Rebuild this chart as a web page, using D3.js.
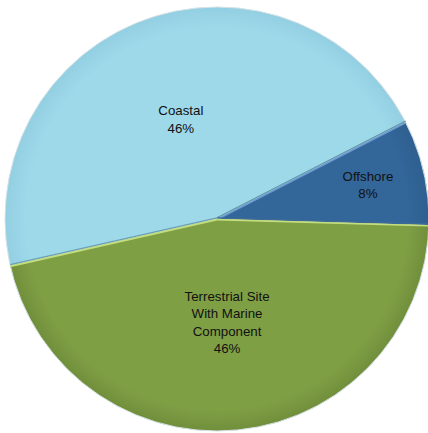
<!DOCTYPE html>
<html>
<head>
<meta charset="utf-8">
<script src="https://cdn.jsdelivr.net/npm/d3@7"></script>
<style>
  body { margin: 0; background: #fff; }
  .slice-label { font-family: "Liberation Sans", Arial, sans-serif; font-size: 13.3px; fill: #111; }
</style>
</head>
<body>
<div id="svg"></div>
<script>
/* Site type pie chart */

let categories = ["Coastal", "Offshore", "Terrestrial Site With Marine Component"];
let labelLines = [["Coastal"], ["Offshore"], ["Terrestrial Site", "With Marine", "Component"]];
let values = [46, 8, 46];

let colors = ["#9ed9ea", "#336699", "#7f9f45"];
let rimColors = ["#93cfe2", "#2e5f90", "#718f3b"];
// how far out from the middle each label sits (fraction of radius)
let labelRadius = [0.5, 0.73, 0.49];

function makeGraph() {
  let w = 428, h = 433;
  let cx = 217, cy = 219, r = 212;

  let svg = d3.select("#svg")
              .append("svg")
              .attr("width", w)
              .attr("height", h);

  let defs = svg.append("defs");
  colors.forEach((c, i) => {
    let g = defs.append("radialGradient")
      .attr("id", "grad" + i)
      .attr("gradientUnits", "userSpaceOnUse")
      .attr("cx", 0).attr("cy", 0).attr("r", r);
    g.append("stop").attr("offset", "0%").attr("stop-color", c);
    g.append("stop").attr("offset", "90%").attr("stop-color", c);
    g.append("stop").attr("offset", "100%").attr("stop-color", rimColors[i]);
  });

  let data = categories.map((d, i) => ({ name: d, value: values[i], i: i }));

  // offshore slice sits just above 3 o'clock
  let total = d3.sum(values);
  let start = (77.25 - (values[0] + values[1] / 2) / total * 360) * Math.PI / 180;

  let pie = d3.pie()
    .value(d => d.value)
    .sort(null)
    .startAngle(start)
    .endAngle(start + 2 * Math.PI);

  let arcs = pie(data);
  let arc = d3.arc().innerRadius(0).outerRadius(r);

  let g = svg.append("g").attr("transform", `translate(${cx}, ${cy})`);

  g.selectAll("path.slice")
    .data(arcs)
    .enter()
    .append("path")
    .classed("slice", true)
    .attr("d", arc)
    .attr("fill", d => `url(#grad${d.data.i})`);

  // faint outer rim
  g.append("circle")
    .attr("r", r)
    .attr("fill", "none")
    .attr("stroke", "#d5e2e6")
    .attr("stroke-width", 1);

  // bevel lines along the slice borders
  let edge = a => [Math.sin(a) * r, -Math.cos(a) * r];
  let borders = [
    { a: arcs[0].endAngle, dark: "#5f93a8", light: "#6f9bd0" },
    { a: arcs[1].endAngle, dark: "#3e6a98", light: "#c4de7f" },
    { a: arcs[2].endAngle, dark: "#6d9fb4", light: "#c4de7f" }
  ];
  borders.forEach(b => {
    let p = edge(b.a);
    g.append("line")
      .attr("x1", 0).attr("y1", -1.2).attr("x2", p[0]).attr("y2", p[1] - 1.2)
      .attr("stroke", b.dark).attr("stroke-width", 1.2);
    g.append("line")
      .attr("x1", 0).attr("y1", 0.6).attr("x2", p[0]).attr("y2", p[1] + 0.6)
      .attr("stroke", b.light).attr("stroke-width", 1.6);
  });

  // labels
  let lineH = 17.5;
  arcs.forEach(d => {
    let i = d.data.i;
    let mid = (d.startAngle + d.endAngle) / 2;
    let lx = Math.sin(mid) * r * labelRadius[i];
    let ly = -Math.cos(mid) * r * labelRadius[i];
    let lines = labelLines[i].concat([Math.round(d.value / total * 100) + "%"]);
    let t = g.append("text")
      .classed("slice-label", true)
      .attr("text-anchor", "middle")
      .attr("x", lx)
      .attr("y", ly - (lines.length - 1) * lineH / 2 + 4.5);
    lines.forEach((s, k) => {
      t.append("tspan")
        .attr("x", lx)
        .attr("dy", k == 0 ? 0 : lineH)
        .text(s);
    });
  });
}

window.onload = function() {
  makeGraph();
};
</script>
</body>
</html>
